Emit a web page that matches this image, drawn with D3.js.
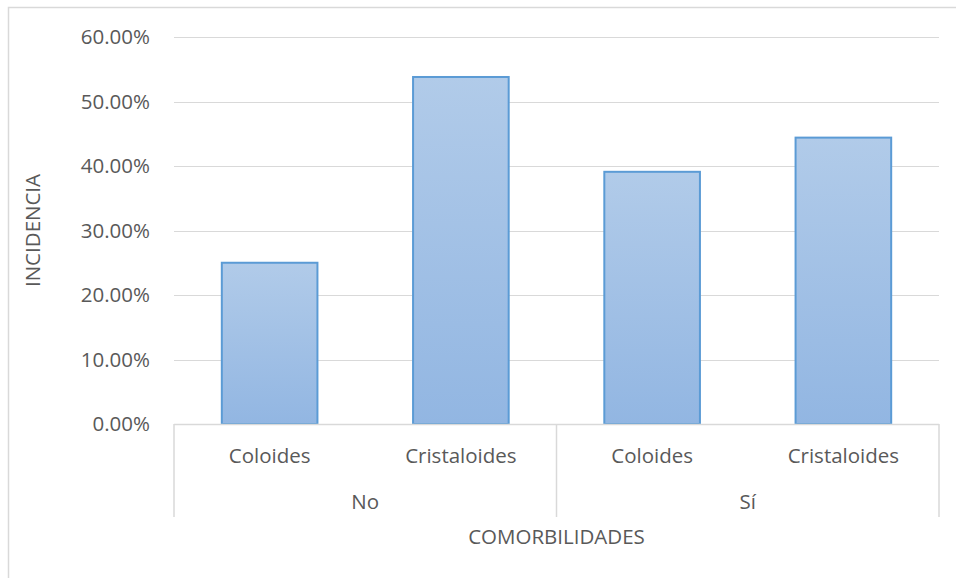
<!DOCTYPE html>
<html><head><meta charset="utf-8">
<script src="https://cdn.jsdelivr.net/npm/d3@7"></script>
<style>body{margin:0;background:#fff}svg{display:block}</style>
</head><body>
<script>
const groups = ["No", "Sí"];
const categories = ["Coloides", "Cristaloides"];
const values = [0.25, 0.538, 0.391, 0.444];
const yTicks = [0, 0.1, 0.2, 0.3, 0.4, 0.5, 0.6];
const yTitle = "INCIDENCIA";
const xTitle = "COMORBILIDADES";

const W = 956, H = 578;
const m = {left: 174, right: 939, top: 37, bottom: 424};
const font = "'Open Sans', 'Liberation Sans', sans-serif";
const txt = "#595959";
const fs = "20.5px";

const svg = d3.select("body").append("svg").attr("width", W).attr("height", H);
svg.append("path").attr("d", `M8.5,${H}V7.5H${W}`).attr("fill","none").attr("stroke","#d9d9d9").attr("stroke-width",1.5);

const items = [];
groups.forEach((g,gi)=>categories.forEach((c,ci)=>items.push({g, c, v: values[gi*categories.length+ci], key: g+"|"+c})));

const x = d3.scaleBand().domain(items.map(d=>d.key)).range([m.left, m.right]).paddingInner(0.5).paddingOuter(0.25);
const y = d3.scaleLinear().domain([0, 0.6]).range([m.bottom, m.top]);

// gridlines
svg.append("g").selectAll("line").data(yTicks.slice(1)).join("line")
  .attr("x1", m.left).attr("x2", m.right)
  .attr("y1", d=>Math.round(y(d))+0.5).attr("y2", d=>Math.round(y(d))+0.5)
  .attr("stroke", "#d9d9d9").attr("stroke-width", 1.2);

// y axis labels
const yAxis = d3.axisLeft(y).tickValues(yTicks).tickFormat(d=>(d*100).toFixed(2)+"%").tickSize(0).tickPadding(24);
const ya = svg.append("g").attr("transform", `translate(${m.left},0)`).call(yAxis);
ya.select(".domain").remove();
ya.selectAll("text").attr("fill", txt).style("font-family", font).style("font-size", fs);

// gradient
const defs = svg.append("defs");
const grad = defs.append("linearGradient").attr("id","bg").attr("x1",0).attr("y1",0).attr("x2",0).attr("y2",1);
grad.append("stop").attr("offset","0%").attr("stop-color","#b1cbe9");
grad.append("stop").attr("offset","100%").attr("stop-color","#92b6e2");

svg.append("g").selectAll("rect").data(items).join("rect")
  .attr("x", d=>x(d.key)).attr("width", x.bandwidth())
  .attr("y", d=>y(d.v)).attr("height", d=>y(0)-y(d.v))
  .attr("fill","url(#bg)").attr("stroke","#5b9bd5").attr("stroke-width",2);

// x axis line
svg.append("line").attr("x1", m.left).attr("x2", m.right).attr("y1", m.bottom+0.5).attr("y2", m.bottom+0.5)
  .attr("stroke","#d9d9d9").attr("stroke-width",1.5);

// separators
const groupW = (m.right - m.left)/groups.length;
const seps = d3.range(groups.length+1).map(i=>m.left + i*groupW);
svg.append("g").selectAll("line").data(seps).join("line")
  .attr("x1", d=>d).attr("x2", d=>d).attr("y1", m.bottom).attr("y2", 517)
  .attr("stroke","#d9d9d9").attr("stroke-width",1.5);

// category labels
svg.append("g").selectAll("text").data(items).join("text")
  .attr("x", d=>x(d.key)+x.bandwidth()/2).attr("y", 463)
  .attr("text-anchor","middle").attr("fill",txt).style("font-family",font).style("font-size",fs)
  .text(d=>d.c);

svg.append("g").selectAll("text").data(groups).join("text")
  .attr("x", (d,i)=>m.left + (i+0.5)*groupW).attr("y", 509)
  .attr("text-anchor","middle").attr("fill",txt).style("font-family",font).style("font-size",fs)
  .text(d=>d);

svg.append("text").attr("x", (m.left+m.right)/2).attr("y", 544)
  .attr("text-anchor","middle").attr("fill",txt).style("font-family",font).style("font-size",fs)
  .text(xTitle);

svg.append("text").attr("transform", `translate(40,${(m.top+m.bottom)/2}) rotate(-90)`)
  .attr("text-anchor","middle").attr("fill",txt).style("font-family",font).style("font-size",fs)
  .text(yTitle);
</script>
</body></html>
